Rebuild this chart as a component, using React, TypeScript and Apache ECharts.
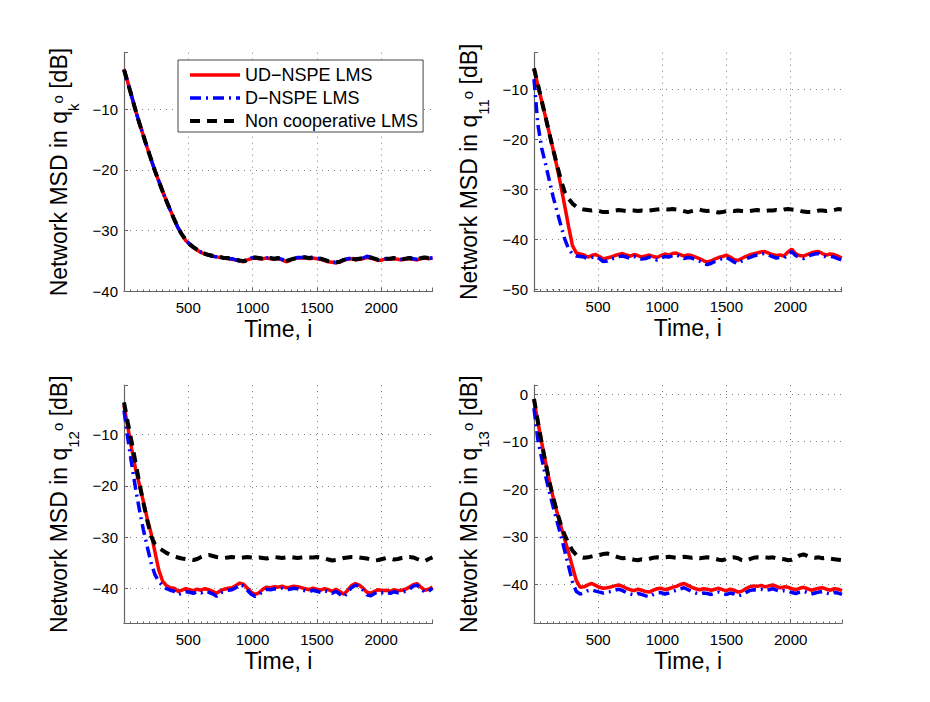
import React, { useEffect, useRef } from 'react';
import * as echarts from 'echarts';

// ---------- data (sampled every 30 iterations, i = 0 … 2400) ----------
const STEP = 30;
const TIME: number[] = Array.from({ length: 81 }, (_, k) => k * STEP);

const SERIES_NAMES = ['UD\u2212NSPE LMS', 'D\u2212NSPE LMS', 'Non cooperative LMS'];
const SUBSCRIPTS = ['k', '11', '12', '13'];
const X_TICKS = [500, 1000, 1500, 2000];

// Panel 1: q_k^o
const TL_UD = [
  -3.4, -5.6, -7.9, -10.2, -12.3, -14.3, -16.3, -18.2, -20.1, -21.8,
  -23.5, -25.1, -26.6, -28.1, -29.5, -30.6, -31.6, -32.2, -32.8, -33.2,
  -33.6, -33.8, -34.0, -34.2, -34.3, -34.4, -34.5, -34.6, -34.7, -34.8,
  -35.0, -35.1, -34.8, -34.6, -34.5, -34.6, -34.6, -34.5, -34.6, -34.7,
  -34.6, -34.8, -35.1, -34.9, -34.6, -34.5, -34.5, -34.4, -34.6, -34.5,
  -34.6, -34.7, -34.9, -35.1, -35.2, -35.3, -35.1, -34.8, -34.7, -34.6,
  -34.8, -34.7, -34.6, -34.4, -34.5, -34.7, -34.9, -34.8, -34.6, -34.7,
  -34.6, -34.7, -34.8, -34.6, -34.6, -34.7, -34.8, -34.6, -34.5, -34.6,
  -34.5,
];
const TL_D = [
  -3.5, -5.7, -7.9, -10.2, -12.3, -14.3, -16.3, -18.2, -20.1, -21.8,
  -23.5, -25.1, -26.6, -28.1, -29.5, -30.6, -31.5, -32.2, -32.7, -33.1,
  -33.5, -33.8, -34.0, -34.2, -34.3, -34.4, -34.5, -34.6, -34.6, -34.8,
  -35.0, -35.1, -34.9, -34.5, -34.4, -34.5, -34.6, -34.5, -34.5, -34.6,
  -34.5, -34.7, -35.0, -34.8, -34.6, -34.4, -34.4, -34.3, -34.5, -34.4,
  -34.5, -34.6, -34.8, -35.0, -35.1, -35.2, -35.0, -34.8, -34.6, -34.5,
  -34.7, -34.6, -34.5, -34.2, -34.4, -34.6, -34.8, -34.7, -34.6, -34.6,
  -34.5, -34.6, -34.7, -34.5, -34.5, -34.6, -34.7, -34.5, -34.4, -34.5,
  -34.5,
];
const TL_NC = [
  -3.5, -5.7, -7.9, -10.2, -12.3, -14.3, -16.3, -18.2, -20.1, -21.8,
  -23.5, -25.1, -26.6, -28.1, -29.5, -30.6, -31.5, -32.2, -32.7, -33.1,
  -33.5, -33.8, -34.0, -34.1, -34.2, -34.3, -34.5, -34.5, -34.6, -34.7,
  -34.9, -35.0, -34.8, -34.5, -34.4, -34.5, -34.6, -34.5, -34.5, -34.6,
  -34.5, -34.7, -35.0, -34.8, -34.6, -34.5, -34.4, -34.4, -34.5, -34.4,
  -34.5, -34.6, -34.8, -35.0, -35.1, -35.2, -35.1, -34.8, -34.6, -34.6,
  -34.7, -34.6, -34.5, -34.3, -34.4, -34.6, -34.8, -34.7, -34.6, -34.6,
  -34.5, -34.6, -34.7, -34.6, -34.5, -34.6, -34.7, -34.5, -34.4, -34.5,
  -34.4,
];

// Panel 2: q_11^o
const TR_UD = [
  -6.0, -9.2, -12.4, -15.6, -18.9, -22.2, -25.6, -29.4, -33.4, -37.5,
  -41.3, -42.8, -43.0, -43.2, -43.6, -43.3, -43.1, -43.5, -44.0, -43.8,
  -43.6, -43.3, -43.1, -42.9, -43.2, -43.4, -43.1, -43.3, -43.6, -43.4,
  -43.2, -43.5, -43.7, -43.3, -43.0, -43.2, -42.9, -42.8, -43.1, -43.4,
  -43.2, -43.3, -43.6, -43.9, -44.3, -44.6, -44.4, -44.0, -43.7, -43.5,
  -43.2, -43.6, -44.1, -44.3, -43.9, -43.5, -43.2, -43.0, -42.8, -42.6,
  -42.5, -42.8, -43.1, -43.3, -43.2, -43.4, -42.6, -42.0, -42.9, -43.3,
  -43.4, -43.1, -42.8, -42.6, -42.5, -42.9, -43.2, -43.0, -43.1, -43.4,
  -43.8,
];
const TR_D = [
  -8.0, -17.0, -21.8, -25.0, -28.3, -31.6, -34.5, -37.3, -40.0, -42.0,
  -43.0, -43.4, -43.5, -43.6, -43.9, -43.7, -43.5, -43.9, -44.5, -44.4,
  -44.0, -43.8, -43.5, -43.4, -43.6, -43.9, -43.5, -43.7, -44.0, -43.9,
  -43.6, -43.9, -44.2, -43.8, -43.5, -43.6, -43.3, -43.2, -43.5, -43.9,
  -43.7, -43.8, -44.1, -44.4, -44.8, -45.1, -44.9, -44.5, -44.2, -43.9,
  -43.7, -44.1, -44.6, -44.9, -44.4, -44.0, -43.7, -43.4, -43.2, -43.0,
  -42.9, -43.2, -43.5, -43.8, -43.7, -43.8, -43.1, -42.5, -43.3, -43.7,
  -43.9, -43.6, -43.2, -43.0, -42.9, -43.3, -43.6, -43.5, -43.6, -43.9,
  -44.2,
];
const TR_NC = [
  -5.8, -9.0, -12.3, -15.6, -18.9, -22.1, -25.2, -28.2, -30.6, -31.9,
  -32.9, -33.5, -33.9, -34.1, -34.2, -34.3, -34.2, -34.4, -34.6, -34.6,
  -34.5, -34.3, -34.2, -34.3, -34.4, -34.3, -34.3, -34.4, -34.3, -34.4,
  -34.3, -34.2, -34.1, -34.0, -34.0, -34.1, -34.0, -34.1, -34.2, -34.4,
  -34.6, -34.4, -34.2, -34.1, -34.3, -34.4, -34.3, -34.5, -34.7, -34.6,
  -34.4, -34.3, -34.4, -34.3, -34.4, -34.5, -34.4, -34.3, -34.2, -34.3,
  -34.4, -34.3, -34.3, -34.2, -34.3, -34.1, -34.0, -34.1, -34.2, -34.3,
  -34.5, -34.6, -34.6, -34.5, -34.3, -34.3, -34.4, -34.3, -34.2, -34.0,
  -34.1,
];

// Panel 3: q_12^o
const BL_UD = [
  -4.3, -8.6, -12.8, -16.7, -19.8, -23.0, -26.3, -29.2, -32.8, -36.4,
  -38.6, -39.5, -39.9, -40.0, -40.6, -40.4, -40.1, -40.3, -40.5, -40.2,
  -40.4, -40.1, -40.3, -40.6, -41.0, -40.5, -40.2, -40.0, -39.9, -39.5,
  -39.0, -39.2, -40.0, -40.8, -41.2, -40.9, -40.2, -39.8, -39.9, -39.7,
  -39.8, -39.6, -39.9, -39.8, -39.6, -39.7, -39.9, -40.1, -40.3, -40.0,
  -40.2, -40.4, -40.1, -40.3, -40.6, -40.2, -40.7, -41.2, -40.4, -39.5,
  -39.1, -39.4, -40.0, -40.8, -41.0, -40.6, -40.3, -40.5, -40.4, -40.6,
  -40.3, -40.5, -40.4, -40.2, -39.8, -39.3, -39.1, -39.8, -40.4, -40.2,
  -39.8,
];
const BL_D = [
  -5.3, -10.8, -15.8, -20.5, -24.7, -28.5, -31.8, -35.0, -37.3, -38.7,
  -39.5, -40.1, -40.4, -40.6, -41.3, -41.0, -40.7, -40.8, -41.0, -40.7,
  -40.9, -40.6, -40.8, -41.1, -41.6, -40.9, -40.6, -40.4, -40.3, -39.9,
  -39.3, -39.6, -40.4, -41.2, -41.6, -41.3, -40.6, -40.2, -40.3, -40.1,
  -40.2, -40.0, -40.3, -40.2, -40.0, -40.1, -40.3, -40.5, -40.7, -40.4,
  -40.6, -40.8, -40.5, -40.7, -41.0, -40.6, -41.2, -41.7, -40.8, -39.9,
  -39.4, -39.7, -40.4, -41.3, -41.5, -41.0, -40.7, -40.9, -40.8, -41.0,
  -40.7, -40.9, -40.8, -40.6, -40.2, -39.6, -39.4, -40.1, -40.8, -40.6,
  -40.0,
];
const BL_NC = [
  -3.7, -7.7, -11.5, -15.5, -19.5, -23.2, -26.7, -29.8, -31.4, -32.1,
  -32.6, -33.1, -33.5, -33.8, -34.0, -34.2, -34.3, -34.4, -34.5, -34.3,
  -33.9, -33.6, -33.5, -33.7, -33.9, -34.0, -34.1, -34.0, -33.9, -34.0,
  -34.1, -34.0, -33.9, -34.0, -34.1, -34.0, -34.1, -34.2, -34.0, -33.9,
  -34.0, -34.1, -34.0, -33.9, -34.0, -34.1, -34.0, -33.9, -34.0, -34.0,
  -33.9, -34.0, -34.2, -34.4, -34.6, -34.5, -34.3, -34.1, -34.0, -33.9,
  -33.9, -34.0, -34.1, -34.2, -34.4, -34.6, -34.5, -34.3, -34.1, -34.2,
  -34.4, -34.3, -34.1, -34.0, -33.9, -34.0, -34.3, -34.6, -34.7, -34.3,
  -34.0,
];

// Panel 4: q_13^o
const BR_UD = [
  -1.3, -5.8, -10.2, -14.3, -18.3, -21.8, -24.9, -27.8, -30.6, -33.4,
  -36.3, -39.2, -40.6, -40.5, -40.1, -39.8, -40.2, -40.6, -40.8, -40.7,
  -40.5, -40.3, -40.1, -40.4, -40.8, -41.1, -41.3, -41.0, -41.2, -41.5,
  -41.6, -41.2, -40.9, -40.8, -41.1, -40.9, -40.6, -40.4, -40.0, -39.8,
  -40.2, -40.6, -40.9, -41.1, -40.9, -41.0, -41.2, -41.0, -40.8, -41.1,
  -41.3, -41.0, -41.2, -41.6, -41.4, -40.9, -40.5, -40.3, -40.4, -40.2,
  -40.5, -40.3, -40.1, -40.4, -40.7, -40.5, -40.6, -40.9, -41.1, -40.8,
  -40.6, -40.9, -41.2, -41.0, -40.8, -40.7, -41.0, -41.2, -40.9, -41.0,
  -41.3,
];
const BR_D = [
  -3.0, -9.6, -13.5, -17.2, -20.6, -23.8, -26.8, -29.8, -33.0, -36.2,
  -39.5, -41.5, -42.0, -41.7, -41.3, -41.1, -41.4, -41.6, -41.8, -41.6,
  -41.5, -41.2, -41.0, -41.3, -41.7, -42.0, -42.2, -41.9, -42.1, -42.4,
  -42.6, -42.1, -41.8, -41.7, -42.0, -41.8, -41.5, -41.2, -40.9, -40.7,
  -41.1, -41.5, -41.8, -42.0, -41.8, -41.9, -42.1, -41.8, -41.6, -41.9,
  -42.1, -41.8, -42.0, -42.4, -42.2, -41.7, -41.3, -41.1, -41.2, -41.0,
  -41.3, -41.1, -40.9, -41.2, -41.5, -41.3, -41.4, -41.7, -41.9, -41.6,
  -41.4, -41.7, -42.0, -41.8, -41.6, -41.5, -41.8, -42.0, -41.7, -41.8,
  -42.1,
];
const BR_NC = [
  -1.0, -5.8, -10.3, -14.4, -18.5, -21.8, -24.8, -27.5, -29.7, -31.4,
  -32.9, -33.8, -34.2, -34.4, -34.3, -34.1, -33.9, -33.8, -33.6, -33.5,
  -33.7, -34.0, -34.3, -34.5, -34.4, -34.6, -34.8, -34.9, -34.7, -34.8,
  -34.6, -34.4, -34.3, -34.4, -34.3, -34.2, -34.3, -34.4, -34.3, -34.2,
  -34.3, -34.4, -34.3, -34.5, -34.4, -34.3, -34.4, -34.6, -34.8, -34.9,
  -34.6, -34.4, -34.3, -34.5, -34.9, -35.0, -34.7, -34.4, -34.3, -34.4,
  -34.3, -34.4, -34.3, -34.5, -34.6, -34.7, -34.9, -34.8, -34.4, -33.9,
  -33.7, -34.0, -34.3, -34.4, -34.3, -34.5, -34.4, -34.6, -34.7, -34.8,
  -34.9,
];

const PANEL_DATA = [
  [TL_UD, TL_D, TL_NC],
  [TR_UD, TR_D, TR_NC],
  [BL_UD, BL_D, BL_NC],
  [BR_UD, BR_D, BR_NC],
];
const Y_LIMITS: [number, number, number][] = [
  [-40, -0.7, 4],
  [-50.4, -2.7, 5],
  [-46.9, -0.3, 5],
  [-48.2, 1.9, 5],
];

// ---------- styling / layout ----------
const FONT = "'Liberation Sans', Arial, Helvetica, sans-serif";
const AXIS_COLOR = '#666';
const GRID_COLOR = '#808080';
const LAYOUT = [
  { left: 124, top: 52.7, width: 308.5, height: 238.8 },
  { left: 534, top: 52.7, width: 307.7, height: 238.3 },
  { left: 124, top: 385, width: 308.5, height: 238.5 },
  { left: 534, top: 385, width: 308, height: 238.5 },
];
const LINE_STYLES: any[] = [
  { color: '#ff0000', width: 3.5, type: 'solid' },
  { color: '#0000ff', width: 3.5, type: [11, 5, 2, 5] },
  { color: '#000000', width: 4, type: [10, 7] },
];

function yFmt(v: number): string {
  const r = Math.round(v);
  if (Math.abs(v - r) > 1e-6 || r % 10 !== 0) return '';
  return r < 0 ? '\u2212' + String(-r) : String(r);
}
function xFmt(v: number): string {
  const r = Math.round(v);
  return Math.abs(v - r) < 1e-6 && X_TICKS.indexOf(r) >= 0 ? String(r) : '';
}

function buildOption(): any {
  const grid = LAYOUT.map((g) => ({ ...g, containLabel: false }));
  const xAxis = LAYOUT.map((_, p) => ({
    type: 'value',
    gridIndex: p,
    min: 0,
    max: 2400,
    interval: 500,
    axisLine: { show: true, onZero: false, lineStyle: { color: AXIS_COLOR, width: 1.2 } },
    axisTick: { show: true, inside: true, length: 4, lineStyle: { color: AXIS_COLOR } },
    minorTick: { show: true, splitNumber: 10, length: 2, lineStyle: { color: AXIS_COLOR } },
    axisLabel: { formatter: xFmt, fontSize: 15, color: '#000', fontFamily: FONT, margin: 8 },
    splitLine: {
      show: true,
      showMinLine: false,
      showMaxLine: false,
      lineStyle: { color: GRID_COLOR, width: 1, type: [1, 5] },
    },
    name: 'Time, i',
    nameLocation: 'middle',
    nameGap: 25.5,
    nameTextStyle: { fontSize: 23, color: '#000', fontFamily: FONT },
  }));
  const yAxis = LAYOUT.map((_, p) => ({
    type: 'value',
    gridIndex: p,
    min: Y_LIMITS[p][0],
    max: Y_LIMITS[p][1],
    splitNumber: Y_LIMITS[p][2],
    axisLine: { show: true, onZero: false, lineStyle: { color: AXIS_COLOR, width: 1.2 } },
    axisTick: { show: true, inside: true, length: 4, lineStyle: { color: AXIS_COLOR } },
    axisLabel: { formatter: yFmt, fontSize: 15, color: '#000', fontFamily: FONT, margin: 6 },
    splitLine: {
      show: true,
      showMinLine: false,
      showMaxLine: false,
      lineStyle: { color: GRID_COLOR, width: 1, type: [1, 5] },
    },
    name: `{m|Network MSD in q}{s|${SUBSCRIPTS[p]}}{o|o}{m| [dB]}`,
    nameLocation: 'middle',
    nameGap: 43,
    nameTextStyle: {
      color: '#000',
      fontFamily: FONT,
      rich: {
        m: { fontSize: 23, lineHeight: 23, fontFamily: FONT, color: '#000' },
        s: { fontSize: 15, lineHeight: 44, verticalAlign: 'bottom', fontFamily: FONT, color: '#000' },
        o: { fontSize: 15, verticalAlign: 'middle', padding: [0, 0, 4, 0], fontFamily: FONT, color: '#000' },
      },
    },
  }));

  const series: any[] = [];
  PANEL_DATA.forEach((arrs, p) => {
    arrs.forEach((vals, s) => {
      series.push({
        type: 'line',
        name: SERIES_NAMES[s],
        xAxisIndex: p,
        yAxisIndex: p,
        data: vals.map((v, k) => [TIME[k], v]),
        symbol: 'none',
        showSymbol: false,
        silent: true,
        z: 2 + s,
        lineStyle: { ...LINE_STYLES[s] },
        itemStyle: { color: LINE_STYLES[s].color },
      });
    });
  });

  return {
    animation: false,
    backgroundColor: '#ffffff',
    grid,
    xAxis,
    yAxis,
    legend: {
      show: true,
      orient: 'vertical',
      left: 178,
      top: 60,
      itemWidth: 50,
      itemHeight: 20,
      itemGap: 3,
      padding: [5, 5, 1, 10],
      borderColor: '#444',
      borderWidth: 1,
      backgroundColor: '#ffffff',
      selectedMode: false,
      itemStyle: { opacity: 0 },
      lineStyle: { width: 'inherit', type: 'inherit', opacity: 1 },
      textStyle: { fontFamily: FONT, fontSize: 18, color: '#000', lineHeight: 20 },
      data: SERIES_NAMES.slice(),
    },
    series,
  };
}

export default function App() {
  const ref = useRef<HTMLDivElement>(null);
  useEffect(() => {
    if (!ref.current) return;
    const chart = echarts.init(ref.current, null, { renderer: 'svg', width: 930, height: 702 });
    chart.setOption(buildOption());
    return () => chart.dispose();
  }, []);
  return (
    <div
      ref={ref}
      style={{ position: 'absolute', left: 0, top: 0, width: 930, height: 702, background: '#fff' }}
    />
  );
}
